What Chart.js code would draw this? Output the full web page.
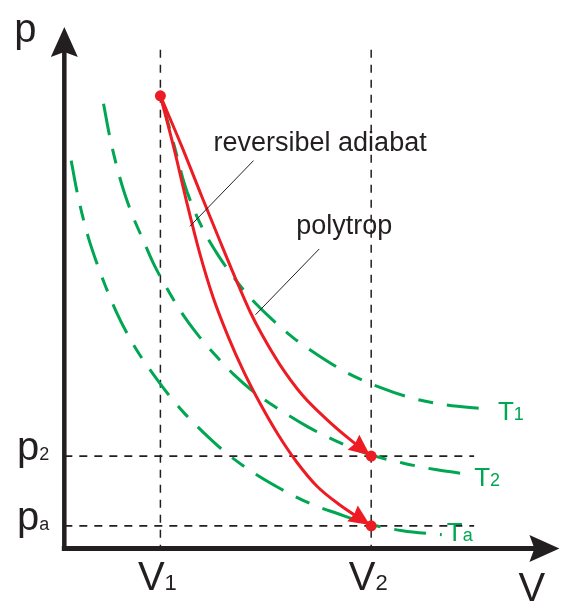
<!DOCTYPE html>
<html>
<head>
<meta charset="utf-8">
<script src="https://cdn.jsdelivr.net/npm/chart.js@4"></script>
<style>
  html, body { margin: 0; padding: 0; background: #fff; }
  canvas { display: block; }
</style>
</head>
<body>
<canvas id="chart" width="561" height="601"></canvas>
<script>
// p-V diagram, values in arbitrary units
const V1 = 1.96;
const V2 = 6.26;
const p1 = 9.22;
const p2 = 1.88;
const pa = 0.46;

const volumeTicks = [
  { main: 'V', sub: '1', value: V1 },
  { main: 'V', sub: '2', value: V2 },
];
const pressureTicks = [
  { main: 'p', sub: '2', value: p2 },
  { main: 'p', sub: 'a', value: pa },
];

// isotherms as [V, p]
const isoT1 = [
  [1.98, 9.18], [2.12, 8.66], [2.28, 8.06], [2.44, 7.46], [2.62, 6.96], [2.86, 6.44],
  [3.12, 6.00], [3.44, 5.54], [3.80, 5.10], [4.20, 4.70], [4.66, 4.30], [5.20, 3.92],
  [5.80, 3.56], [6.44, 3.28], [7.10, 3.06], [7.80, 2.92], [8.60, 2.84],
];
const isoT2 = [
  [0.80, 9.06], [0.92, 8.42], [1.06, 7.82], [1.22, 7.26], [1.40, 6.76], [1.60, 6.30],
  [1.82, 5.80], [2.08, 5.32], [2.38, 4.82], [2.70, 4.38], [3.06, 3.96], [3.46, 3.54],
  [3.90, 3.16], [4.40, 2.82], [4.96, 2.48], [5.56, 2.18], [6.20, 1.92], [6.90, 1.74],
  [7.60, 1.60], [8.32, 1.50],
];
const isoTa = [
  [0.14, 7.90], [0.24, 7.36], [0.36, 6.82], [0.50, 6.30], [0.66, 5.82], [0.84, 5.34],
  [1.06, 4.82], [1.28, 4.38], [1.54, 3.94], [1.82, 3.54], [2.12, 3.14], [2.46, 2.74],
  [2.82, 2.38], [3.26, 1.98], [3.80, 1.58], [4.40, 1.22], [5.00, 0.92], [5.60, 0.70],
  [6.20, 0.50], [6.90, 0.36], [7.70, 0.28],
];
const isoLabels = [
  { main: 'T', sub: '1', series: isoT1 },
  { main: 'T', sub: '2', series: isoT2 },
  { main: 'T', sub: 'a', series: isoTa },
];

// state changes from (V1, p1)
const adiabat = [
  [V1, p1], [2.24, 8.14], [2.50, 7.04], [2.76, 6.02], [3.04, 5.10], [3.34, 4.32],
  [3.66, 3.60], [4.00, 2.94], [4.36, 2.32], [4.74, 1.76], [5.16, 1.26], [5.60, 0.90],
  [V2, pa],
];
const polytrop = [
  [V1, p1], [2.40, 8.18], [2.80, 7.18], [3.20, 6.20], [3.56, 5.34], [3.80, 4.80],
  [4.04, 4.34], [4.40, 3.74], [4.86, 3.12], [5.34, 2.64], [5.80, 2.24], [V2, p2],
];
const statePoints = [[V1, p1], [V2, p2], [V2, pa]];

// callouts: text with a leader line [from, to] in V, p
const callouts = [
  { text: 'reversibel adiabat', from: [3.86, 7.90], to: [2.56, 6.56], dx: -40, dy: -10 },
  { text: 'polytrop', from: [5.20, 6.10], to: [3.90, 4.76], dx: -23, dy: -15 },
];

const guideTop = 10.16;
const guideRight = 8.36;
const axisEndV = 10.1;
const axisEndP = 10.62;

const GREEN = '#00a651';
const RED = '#ed1c24';
const INK = '#231f20';
const FONT = '"Liberation Sans", Arial, Helvetica, sans-serif';

const toXY = pts => pts.map(([x, y]) => ({ x, y }));

const line = (ctx, x1, y1, x2, y2) => {
  ctx.beginPath();
  ctx.moveTo(x1, y1);
  ctx.lineTo(x2, y2);
  ctx.stroke();
};

// notched arrow head, tip at (x, y) pointing along angle a
const arrowHead = (ctx, x, y, a, len, half, notch) => {
  ctx.save();
  ctx.translate(x, y);
  ctx.rotate(a);
  ctx.beginPath();
  ctx.moveTo(0, 0);
  ctx.lineTo(-len, -half);
  ctx.lineTo(-len + notch, 0);
  ctx.lineTo(-len, half);
  ctx.closePath();
  ctx.fill();
  ctx.restore();
};

// letter with subscript; align = left | center | right
const subText = (ctx, x, y, main, sub, size, subSize, align) => {
  ctx.font = `${size}px ${FONT}`;
  const wm = ctx.measureText(main).width;
  ctx.font = `${subSize}px ${FONT}`;
  const ws = ctx.measureText(sub).width;
  let left = x;
  if (align === 'center') left = x - (wm + ws) / 2;
  if (align === 'right') left = x - wm - ws;
  ctx.textAlign = 'left';
  ctx.textBaseline = 'alphabetic';
  ctx.font = `${size}px ${FONT}`;
  ctx.fillText(main, left, y);
  ctx.font = `${subSize}px ${FONT}`;
  ctx.fillText(sub, left + wm, y);
};

const isoOffsets = { '1': [12, 11], '2': [2, 11], 'a': [5, 6] };

const diagram = {
  id: 'diagram',
  beforeDatasetsDraw(chart) {
    const { ctx, scales: { x, y } } = chart;
    ctx.save();
    ctx.strokeStyle = INK;
    ctx.lineWidth = 1.5;
    ctx.setLineDash([8, 7]);
    volumeTicks.forEach(t => {
      const px = x.getPixelForValue(t.value);
      line(ctx, px, y.getPixelForValue(guideTop), px, y.getPixelForValue(0));
    });
    ctx.lineWidth = 1.8;
    pressureTicks.forEach(t => {
      const py = y.getPixelForValue(t.value);
      line(ctx, x.getPixelForValue(0), py, x.getPixelForValue(guideRight), py);
    });
    ctx.restore();
  },
  afterDatasetsDraw(chart) {
    const { ctx, scales: { x, y } } = chart;
    const x0 = x.getPixelForValue(0);
    const y0 = y.getPixelForValue(0);
    ctx.save();

    // arrow heads at the end of the two state changes
    ctx.fillStyle = RED;
    [adiabat, polytrop].forEach(pts => {
      const [a, b] = [pts[pts.length - 2], pts[pts.length - 1]];
      const ax = x.getPixelForValue(a[0]), ay = y.getPixelForValue(a[1]);
      const bx = x.getPixelForValue(b[0]), by = y.getPixelForValue(b[1]);
      const ang = Math.atan2(by - ay, bx - ax);
      arrowHead(ctx, bx - 1.5 * Math.cos(ang), by - 1.5 * Math.sin(ang), ang, 21, 9.5, 2);
    });

    // axes
    ctx.strokeStyle = INK;
    ctx.fillStyle = INK;
    ctx.lineWidth = 4.5;
    const xTip = x.getPixelForValue(axisEndV);
    const yTip = y.getPixelForValue(axisEndP);
    line(ctx, x0, y0 + 2, x0, yTip + 20);
    ctx.lineWidth = 5;
    line(ctx, x0 - 2.5, y0, xTip - 20, y0);
    arrowHead(ctx, x0, yTip, -Math.PI / 2, 30, 13.5, 5);
    arrowHead(ctx, xTip, y0, 0, 30, 13.5, 5);

    // axis titles and tick labels
    ctx.font = `40px ${FONT}`;
    ctx.textAlign = 'left';
    ctx.textBaseline = 'alphabetic';
    ctx.fillText('p', x0 - 50, yTip + 15);
    ctx.fillText('V', xTip - 41, y0 + 53);
    volumeTicks.forEach(t => {
      subText(ctx, x.getPixelForValue(t.value) - 3, y0 + 42, t.main, t.sub, 40, 22, 'center');
    });
    pressureTicks.forEach(t => {
      subText(ctx, x0 - 15, y.getPixelForValue(t.value) + 4, t.main, t.sub, 40, 18, 'right');
    });

    // isotherm names
    ctx.fillStyle = GREEN;
    isoLabels.forEach(l => {
      const last = l.series[l.series.length - 1];
      const [dx, dy] = isoOffsets[l.sub];
      subText(ctx, x.getPixelForValue(last[0]) + dx, y.getPixelForValue(last[1]) + dy,
        l.main, l.sub, 26, 18, 'left');
    });

    // callouts
    ctx.fillStyle = INK;
    ctx.strokeStyle = INK;
    ctx.lineWidth = 1;
    ctx.font = `27px ${FONT}`;
    callouts.forEach(c => {
      const fx = x.getPixelForValue(c.from[0]), fy = y.getPixelForValue(c.from[1]);
      line(ctx, fx, fy, x.getPixelForValue(c.to[0]), y.getPixelForValue(c.to[1]));
      ctx.fillText(c.text, fx + c.dx, fy + c.dy);
    });
    ctx.restore();
  },
};

const curve = (pts, color, dash) => ({
  data: toXY(pts),
  showLine: true,
  borderColor: color,
  borderWidth: 3,
  borderDash: dash,
  pointRadius: 0,
  cubicInterpolationMode: 'monotone',
});

new Chart(document.getElementById('chart').getContext('2d'), {
  type: 'scatter',
  data: {
    datasets: [
      { data: toXY(statePoints), pointRadius: 5.5, pointBackgroundColor: RED, pointBorderWidth: 0, showLine: false },
      curve(adiabat, RED, []),
      curve(polytrop, RED, []),
      curve(isoT1, GREEN, [32, 14, 15, 14]),
      curve(isoT2, GREEN, [32, 14, 15, 14]),
      curve(isoTa, GREEN, [32, 14, 15, 14]),
    ],
  },
  options: {
    responsive: false,
    devicePixelRatio: 1,
    animation: false,
    layout: { padding: 0 },
    plugins: { legend: { display: false }, tooltip: { enabled: false } },
    scales: {
      x: { type: 'linear', min: -1.2, max: 10.02, display: false },
      y: { type: 'linear', min: -0.96, max: 11.06, display: false },
    },
  },
  plugins: [diagram],
});
</script>
</body>
</html>
